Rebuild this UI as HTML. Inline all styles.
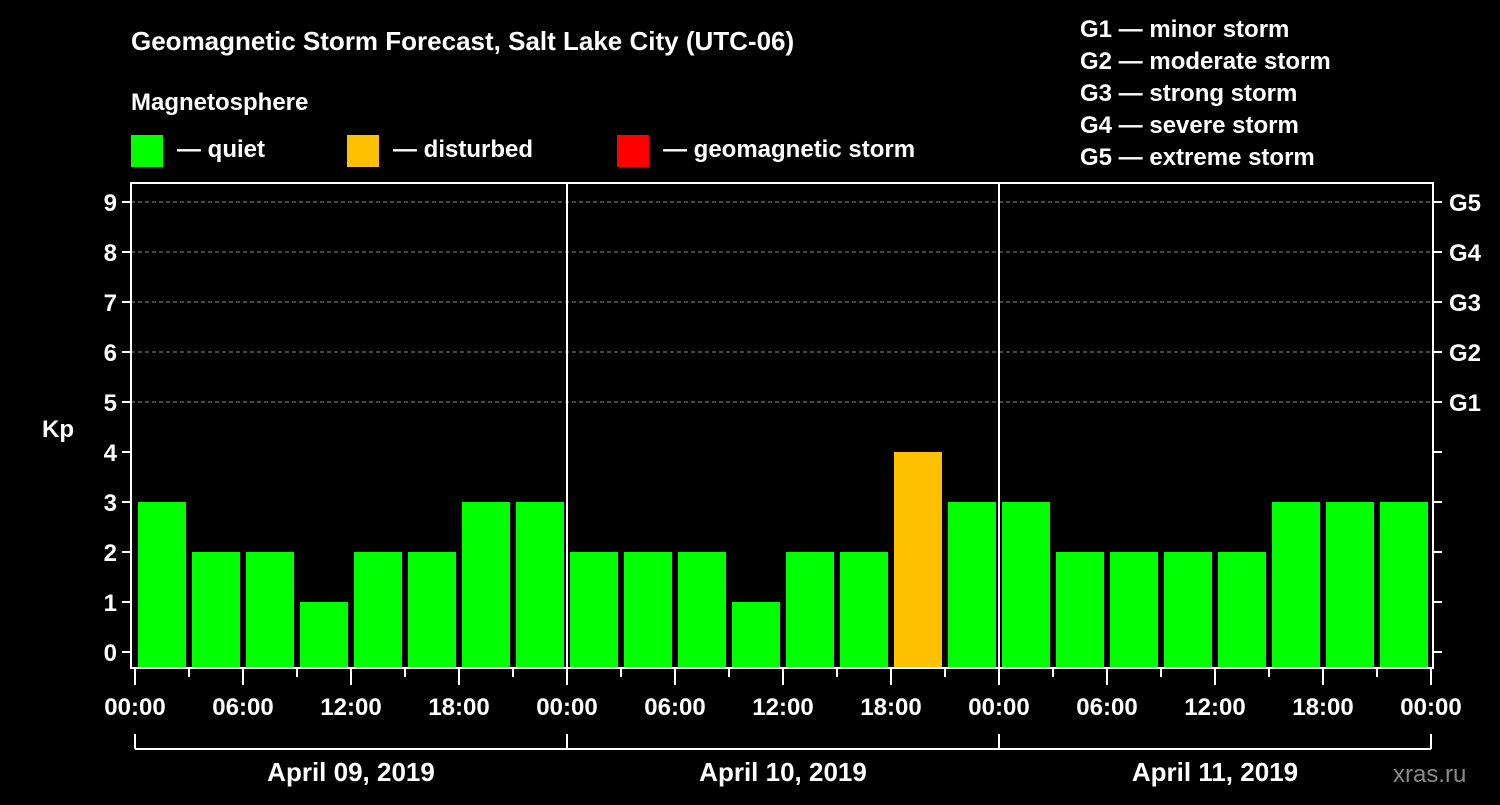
<!DOCTYPE html>
<html><head><meta charset="utf-8"><style>
body{margin:0;background:#000;width:1500px;height:800px;overflow:hidden}
svg text{font-family:"Liberation Sans",sans-serif;font-weight:bold;fill:#fff}
</style></head><body>
<svg id="c" width="1500" height="800">
<text x="131" y="50" font-size="26">Geomagnetic Storm Forecast, Salt Lake City (UTC-06)</text>
<text x="131" y="110" font-size="24">Magnetosphere</text>
<g><rect x="131" y="135" width="32" height="32" fill="#00ff00"/><text x="177" y="157" font-size="24">— quiet</text></g>
<g><rect x="347" y="135" width="32" height="32" fill="#ffc000"/><text x="393" y="157" font-size="24">— disturbed</text></g>
<g><rect x="617" y="135" width="32" height="32" fill="#ff0000"/><text x="663" y="157" font-size="24">— geomagnetic storm</text></g>
<g font-size="24">
<text x="1080" y="37">G1 — minor storm</text><text x="1080" y="69">G2 — moderate storm</text><text x="1080" y="101">G3 — strong storm</text><text x="1080" y="133">G4 — severe storm</text><text x="1080" y="165">G5 — extreme storm</text></g>
<text x="42" y="437" font-size="24">Kp</text>
<text x="1393" y="782" font-size="24" fill="#888" style="fill:#8a8a8a;font-weight:normal">xras.ru</text>
<g id="plot"></g>
</svg>
<script>
const kp=[3,2,2,1,2,2,3,3, 2,2,2,1,2,2,4,3, 3,2,2,2,2,3,3,3];
const days=["April 09, 2019","April 10, 2019","April 11, 2019"];
const hourLabels=["00:00","06:00","12:00","18:00"];
const gLabels=["G1","G2","G3","G4","G5"];
const NS="http://www.w3.org/2000/svg";
const g=document.getElementById('plot');
const X0=135,SL=54,L=131,R=1433,T=183,B=668;
const xs=i=>X0+i*SL;
const ys=v=>652-v*50;
function el(t,a,p){const e=document.createElementNS(NS,t);for(const k in a)e.setAttribute(k,a[k]);(p||g).appendChild(e);return e;}
for(let v=5;v<=9;v++){const l=el('line',{x1:L,x2:R,y1:ys(v),y2:ys(v),stroke:'#888','stroke-dasharray':'4,3'});

}
kp.forEach((v,i)=>{const c=v>=5?'#ff0000':v>=4?'#ffc000':'#00ff00';
const r=el('rect',{x:xs(i)+3,y:ys(v),width:48,height:B-ys(v),fill:c});

});
const f=el('rect',{x:L,y:T,width:R-L,height:B-T,fill:'none',stroke:'#fff','stroke-width':2});


for(let d=1;d<days.length;d++){const l=el('line',{x1:xs(d*8),x2:xs(d*8),y1:T,y2:B,stroke:'#fff','stroke-width':2});

}
for(let v=0;v<=9;v++){
el('line',{x1:L-9,x2:L,y1:ys(v),y2:ys(v),stroke:'#fff','stroke-width':2});
el('line',{x1:R,x2:R+9,y1:ys(v),y2:ys(v),stroke:'#fff','stroke-width':2});
const t=el('text',{x:L-14,y:ys(v)+9,'text-anchor':'end','font-size':24});t.textContent=v;


if(v>=5){const gt=el('text',{x:1449,y:ys(v)+9,'font-size':24});gt.textContent=gLabels[v-5];

}}
for(let i=0;i<=24;i++){const maj=i%2===0;
el('line',{x1:xs(i),x2:xs(i),y1:B,y2:B+(maj?17:9),stroke:'#fff','stroke-width':2});
if(maj){const t=el('text',{x:xs(i),y:715,'text-anchor':'middle','font-size':24});t.textContent=hourLabels[(i/2)%4];

}}
el('line',{x1:xs(0),x2:xs(24),y1:749,y2:749,stroke:'#fff','stroke-width':2});
for(let d=0;d<=days.length;d++)el('line',{x1:xs(d*8),x2:xs(d*8),y1:734,y2:749,stroke:'#fff','stroke-width':2});
days.forEach((d,i)=>{const t=el('text',{x:xs(i*8+4),y:781,'text-anchor':'middle','font-size':26});t.textContent=d;

});
</script>
</body></html>
